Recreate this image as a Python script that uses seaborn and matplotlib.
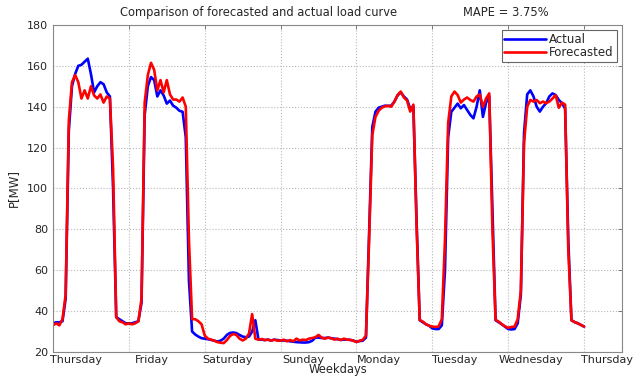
import numpy as np
import pandas as pd
import seaborn as sns
import matplotlib.pyplot as plt

# Weekday tick labels (one per day boundary)
days = ['Thursday', 'Friday', 'Saturday', 'Sunday', 'Monday',
        'Tuesday', 'Wednesday', 'Thursday']

# Hourly load [MW] (h = 0 .. 168)
actual = [
    # Thursday
    34, 34.5, 34.5, 35, 46, 128, 150, 156, 160, 160.5, 162, 163.5,
    156, 147, 150, 152, 151, 147, 145, 100, 37, 36, 35, 34,
    # Friday
    34, 34, 34.5, 35, 44, 136, 150, 154.5, 153, 145, 148, 145.5,
    141.5, 143, 140.5, 139.5, 138, 137.5, 125, 55, 30, 28.5, 27.5, 26.7,
    # Saturday
    26.5, 26.2, 25.9, 25.5, 25.1, 25.5, 26.5, 28.3, 29.3, 29.5, 29.2, 28.3,
    27.5, 27.2, 27.5, 30, 35.5, 26, 26, 25.8, 26, 25.6, 26, 25.8,
    # Sunday
    25.6, 25.6, 25.5, 25.2, 25, 24.8, 24.7, 24.6, 24.6, 24.8, 25.5, 27,
    27, 26.8, 26.8, 27, 26.7, 26.5, 26.2, 25.9, 26, 26, 25.9, 25.5,
    # Monday
    25, 25.3, 25.5, 27, 78, 130, 137.5, 139.5, 140, 140.5, 140.4, 140.5,
    142.5, 145.5, 147, 145, 143.5, 139, 140, 85, 35.5, 34.5, 33.5, 32.8,
    # Tuesday
    31.5, 31.2, 31.2, 33, 60, 125, 137.5, 139.5, 141.5, 139.2, 140.8, 138.4,
    136, 134.3, 140, 148, 135, 142, 145, 90, 35.5, 34.5, 33.5, 32.3,
    # Wednesday
    31.2, 31, 31.2, 34, 48, 127, 146, 148, 145, 140, 137.6, 140,
    141.7, 145, 146.5, 145.7, 143.3, 141.7, 139, 75, 35.5, 34.6, 34, 33.2,
    # Thursday 00:00
    32.4,
]

forecasted = [
    # Thursday
    33, 34, 33, 36, 48, 133, 152, 155.5, 152, 144, 148, 144,
    150, 145.5, 144, 146, 142, 145, 144, 110, 37, 35, 34.5, 33.5,
    # Friday
    34, 33.5, 34, 35, 46, 142, 155.5, 161.5, 158, 148, 153, 147,
    153, 146, 143.5, 143.5, 142.5, 144.5, 140, 75, 36, 36, 35, 33.5,
    # Saturday
    28, 26.5, 26, 25.5, 24.8, 24.5, 24.3, 25.8, 27.8, 28.8, 28.3, 26.5,
    25.6, 26.5, 29, 38.5, 26.5, 26, 26.3, 25.8, 26, 25.5, 26, 25.5,
    # Sunday
    25.5, 26, 25.2, 25.8, 25.2, 26.5, 25.6, 26, 25.8, 26.5, 26.8, 27.2,
    28.3, 27, 26.5, 27, 26.7, 26, 26.5, 25.8, 26.5, 26, 25.9, 25.5,
    # Monday
    24.8, 25.5, 25.9, 28, 75, 126, 135, 138, 139.5, 140.2, 140.4, 140,
    142.5, 145.7, 147.4, 144.5, 143, 137.6, 141, 82, 35.7, 34.8, 33.5, 32.8,
    # Tuesday
    32.4, 32.2, 32.5, 36, 75, 132, 145, 147.4, 145.7, 142, 143.5, 144.5,
    143.3, 142.5, 145, 146, 140, 144, 146.5, 80, 35.7, 34.8, 33.5, 32.5,
    # Wednesday
    31.8, 32.2, 32.4, 36, 50, 122, 140, 143.3, 142.5, 143.3, 141.7, 142.5,
    141.7, 142.5, 144, 145.7, 139.5, 142, 141, 70, 35.5, 34.6, 34, 33.2,
    # Thursday 00:00
    32.4,
]

hours = np.arange(len(actual))
df = pd.DataFrame({
    'Day': np.concatenate([hours, hours]) / 24,
    'Load': actual + forecasted,
    'Series': ['Actual'] * len(actual) + ['Forecasted'] * len(forecasted),
})

sns.set_style('white')
plt.rcParams['font.family'] = ['DejaVu Sans']

fig = plt.figure(figsize=(6.34, 3.78), dpi=100)
ax = fig.add_axes([0.0836, 0.069, 0.8975, 0.865])

sns.lineplot(data=df, x='Day', y='Load', hue='Series', estimator=None,
             palette={'Actual': '#0000ff', 'Forecasted': '#ff0000'},
             linewidth=1.9, ax=ax)

ax.set_xlim(0, 7.5)
ax.set_ylim(20, 180)
ax.set_yticks(range(20, 181, 20))

# major ticks at day boundaries, names sit a bit to the right
ax.set_xticks(range(8))
ax.set_xticklabels([])
ax.set_xticks(np.arange(8) + 0.3, minor=True)
ax.set_xticklabels(days, minor=True)

ax.tick_params(which='major', direction='in', top=True, right=True,
               length=3, width=0.6, color='#666666', labelsize=8, pad=3.5)
ax.tick_params(axis='x', which='minor', length=0, labelsize=8, pad=2.5)
ax.tick_params(axis='y', which='minor', length=0)

ax.grid(True, which='major', linestyle=':', color='#b8b8b8', linewidth=0.8)
for s in ax.spines.values():
    s.set_color('#888888')
    s.set_linewidth(0.8)

ax.set_xlabel('Weekdays', fontsize=8.3, labelpad=-1.5)
ax.set_ylabel('P[MW]', fontsize=8.5, labelpad=5)

ax.text(0.1178, 1.018, 'Comparison of forecasted and actual load curve',
        transform=ax.transAxes, fontsize=8.3, ha='left', va='bottom')
ax.text(0.7206, 1.018, 'MAPE = 3.75%',
        transform=ax.transAxes, fontsize=8.3, ha='left', va='bottom')

leg = ax.legend(loc='upper right', bbox_to_anchor=(0.991, 0.985),
                borderaxespad=0, fontsize=8.5, handlelength=3.5,
                handletextpad=0.3, borderpad=0.25, labelspacing=0.05,
                fancybox=False, framealpha=1)
leg.get_frame().set_edgecolor('#666666')
leg.get_frame().set_linewidth(0.8)
leg.set_title(None)

fig.savefig('out.png', dpi=100)
